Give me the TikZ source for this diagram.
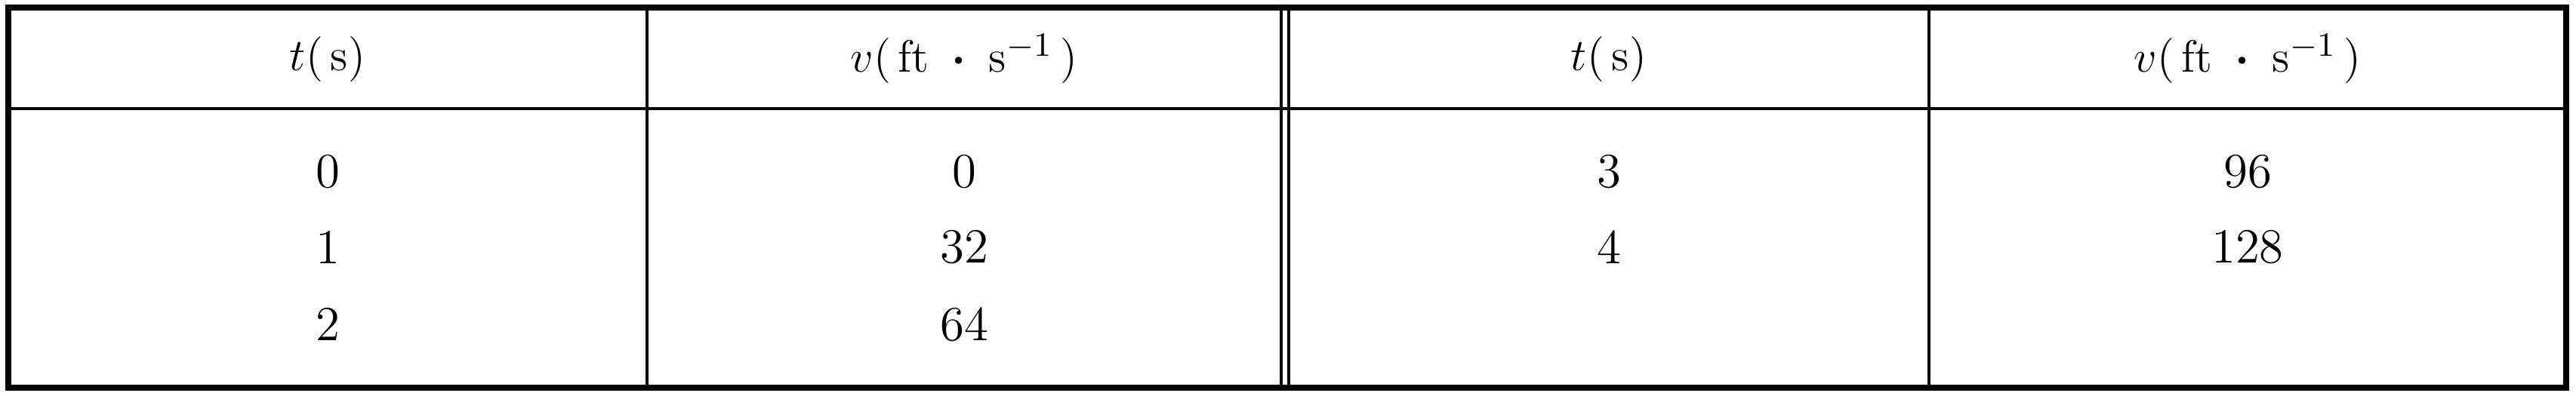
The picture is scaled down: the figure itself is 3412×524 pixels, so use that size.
\documentclass[tikz,border=0pt]{standalone}
\usepackage[]{amsmath}
\usepackage[]{amssymb}
\usepackage[]{xcolor}
\usetikzlibrary{positioning}

\begin{document}
\begin{tikzpicture}[
        x=0.2pt, y=0.2pt,
        align=center,
        frame/.style = {line width=1.5pt},
        rule/.style = {line width=0.8pt},
        cell/.style = {inner sep=0pt, font=\fontsize{13}{15}\selectfont}
    ]

        \useasboundingbox (0,0) rectangle (3412,524);

        % frame and rules
        \draw[frame] (11,10) rectangle (3399,514);
        \draw[rule] (11,380) -- (3399,380);
        \draw[rule] (857,10) -- (857,514);
        \draw[rule] (1697,10) -- (1697,514);
        \draw[rule] (1707,10) -- (1707,514);
        \draw[rule] (2555,10) -- (2555,514);

        % header
        \node[cell] (h1) at (434,446) {$t(\,\mathrm{s})$};
        \node[cell] (h2) at (1277,446) {$v(\,\mathrm{ft}\;\boldsymbol{\cdot}\;\mathrm{s}^{-1}\,)$};
        \node[cell] (h3) at (2131,446) {$t(\,\mathrm{s})$};
        \node[cell] (h4) at (2977,446) {$v(\,\mathrm{ft}\;\boldsymbol{\cdot}\;\mathrm{s}^{-1}\,)$};

        % left half
        \node[cell] (t0) at (434,296) {0};
        \node[cell] (t1) at (434,196) {1};
        \node[cell] (t2) at (434,94) {2};
        \node[cell] (v0) at (1277,296) {0};
        \node[cell] (v1) at (1277,196) {32};
        \node[cell] (v2) at (1277,94) {64};

        % right half
        \node[cell] (t3) at (2131,296) {3};
        \node[cell] (t4) at (2131,196) {4};
        \node[cell] (v3) at (2977,296) {96};
        \node[cell] (v4) at (2977,196) {128};

    \end{tikzpicture}
\end{document}
